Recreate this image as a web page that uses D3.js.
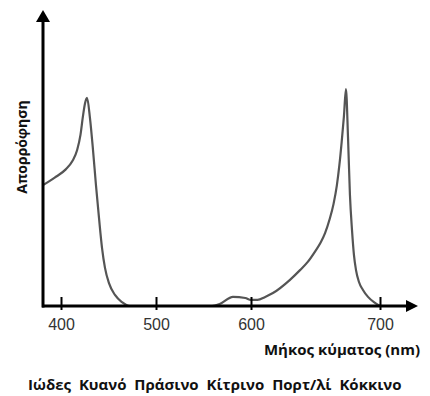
<!DOCTYPE html>
<html>
<head>
<meta charset="utf-8">
<script src="https://cdn.jsdelivr.net/npm/d3@7"></script>
<style>
  body { margin: 0; background: #fff; }
  svg { display: block; }
</style>
</head>
<body>
<svg id="chart" width="430" height="396"></svg>
<script>
const svg = d3.select("#chart");

// wavelength (nm) and absorption (arbitrary units)
const wavelength = [380, 393, 405, 412, 417, 420.5, 423, 425.3, 427.4,
  430.5, 433.7, 436.8, 440, 443.2, 446.3, 450.5, 456.8, 464.2, 472.6,
  559, 567, 581, 594, 600, 605, 611, 617, 630, 638, 644, 650, 654, 657.4,
  661, 664, 666.5, 668.5, 670.3, 672, 673.6,
  675.2, 676.7, 678.3, 679.8, 681.4, 683.7, 686.8, 690.7, 695.3, 700];
const absorption = [43.8, 46.5, 49.5, 52.5, 56.5, 62, 68.5, 73.5, 75.4,
  68.1, 56.5, 43.8, 31.9, 21, 13.8, 8.3, 4, 1.4, 0,
  0, 0.7, 3.3, 2.9, 2.2, 2.2, 3.3, 4.7, 9.4, 13, 16, 20, 23, 26.4,
  31.5, 37, 43.5, 51, 59.5, 68.5, 78.6,
  61.2, 40.2, 27.5, 18.5, 13, 8.7, 5.8, 3.3, 1.4, 0];

const tickValues = [400, 500, 600, 700];
const colorNames = ["Ιώδες", "Κυανό", "Πράσινο", "Κίτρινο", "Πορτ/λί", "Κόκκινο"];

const xLabel = "Μήκος κύματος (nm)";
const yLabel = "Απορρόφηση";

// the figure's tick spacing is not even, so the scale is piecewise
const x = d3.scaleLinear().domain([380, 400, 500, 600, 700]).range([43, 61, 156, 251, 380]);
const y = d3.scaleLinear().domain([0, 100]).range([306, 30]);

const boldFont = "'Open Sans', sans-serif";

// curve
const line = d3.line()
  .x(d => x(d[0]))
  .y(d => y(d[1]))
  .curve(d3.curveMonotoneX);

svg.append("path")
  .datum(wavelength.map((w, i) => [w, absorption[i]]))
  .attr("d", line)
  .attr("fill", "none")
  .attr("stroke", "#555")
  .attr("stroke-width", 2.2);

// x axis with ticks crossing the line
const xAxis = d3.axisBottom(x).tickValues(tickValues).tickSizeOuter(0);
const gx = svg.append("g")
  .attr("transform", `translate(0,${y(0)})`)
  .call(xAxis);
gx.select(".domain").remove();
gx.selectAll(".tick line")
  .attr("y1", -9).attr("y2", 4)
  .attr("stroke", "#000").attr("stroke-width", 2);
gx.selectAll(".tick text")
  .attr("y", 24).attr("dy", 0)
  .attr("fill", "#333")
  .style("font-family", "'Liberation Sans', Arial, sans-serif")
  .style("font-size", "16px");

const axisEnd = 418;
svg.append("line")
  .attr("x1", 42).attr("x2", axisEnd - 10)
  .attr("y1", y(0)).attr("y2", y(0))
  .attr("stroke", "#000").attr("stroke-width", 3);
svg.append("path")
  .attr("d", `M${axisEnd},${y(0)} L${axisEnd - 12},${y(0) - 6} L${axisEnd - 12},${y(0) + 6} Z`)
  .attr("fill", "#000");

// y axis with arrow
const axisTop = 10;
svg.append("line")
  .attr("x1", x(380)).attr("x2", x(380))
  .attr("y1", y(0) + 1.5).attr("y2", axisTop + 10)
  .attr("stroke", "#000").attr("stroke-width", 3);
svg.append("path")
  .attr("d", `M${x(380)},${axisTop} L${x(380) - 7},${axisTop + 12} L${x(380) + 7},${axisTop + 12} Z`)
  .attr("fill", "#000");

// labels
svg.append("text")
  .attr("x", 420).attr("y", 355)
  .attr("text-anchor", "end")
  .style("font-family", boldFont)
  .style("font-weight", "bold")
  .style("font-size", "15px")
  .attr("fill", "#111")
  .text(xLabel);

svg.append("text")
  .attr("transform", "translate(27,147) rotate(-90)")
  .attr("text-anchor", "middle")
  .style("font-family", boldFont)
  .style("font-weight", "bold")
  .style("font-size", "14px")
  .attr("fill", "#111")
  .text(yLabel);

svg.append("text")
  .attr("x", 28).attr("y", 390)
  .style("font-family", boldFont)
  .style("font-weight", "bold")
  .style("font-size", "15px")
  .style("word-spacing", "4px")
  .attr("fill", "#111")
  .text(colorNames.join(" "));
</script>
</body>
</html>
